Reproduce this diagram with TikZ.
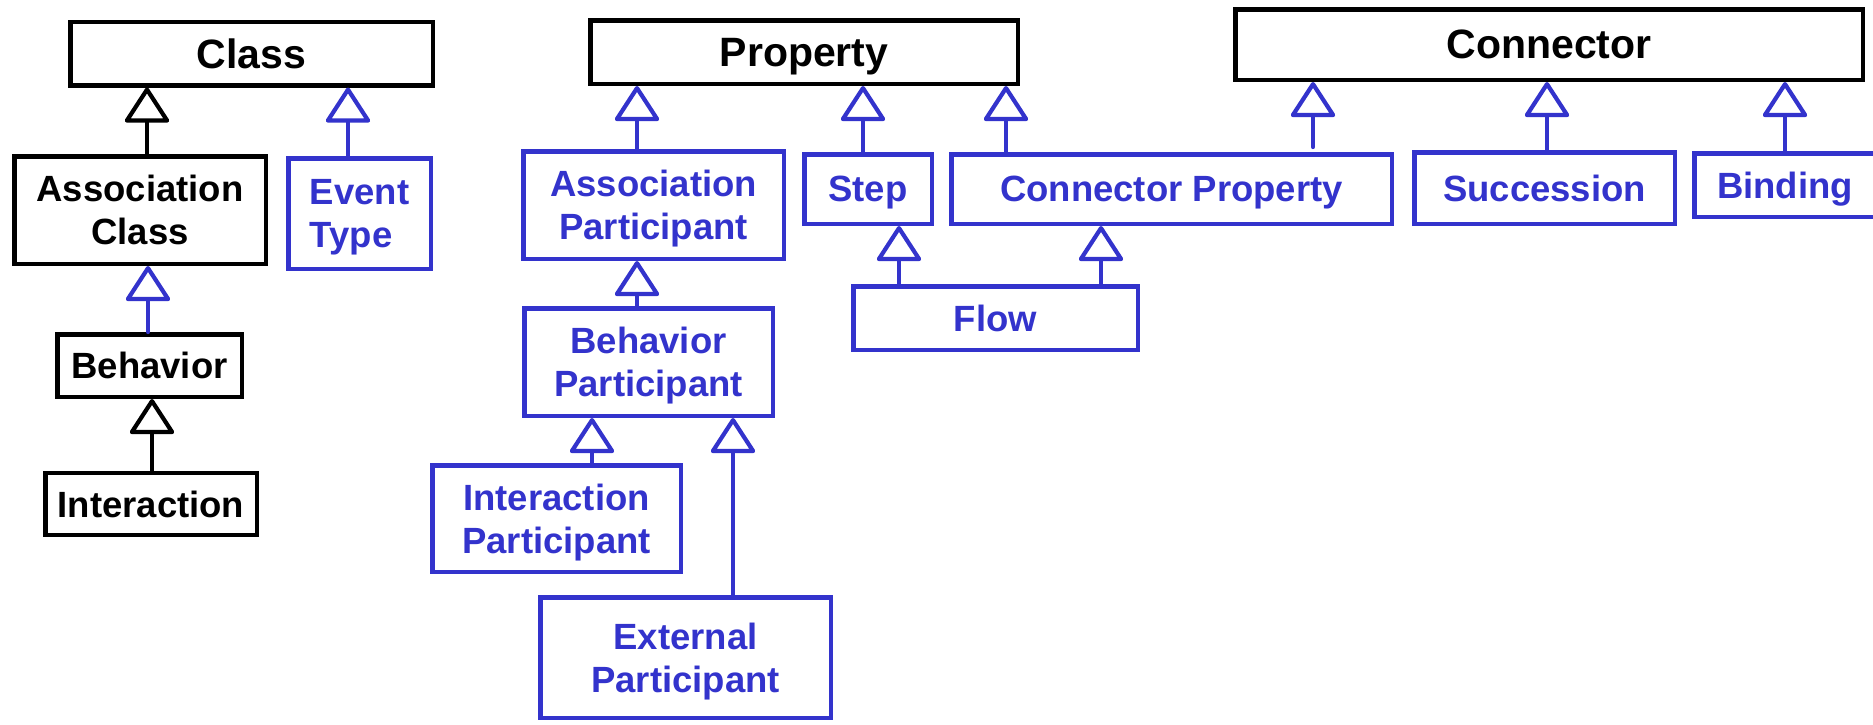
\documentclass[tikz,border=0pt]{standalone}
\usepackage{fontspec}
\setmainfont{Liberation Sans}
\usetikzlibrary{arrows.meta}
\definecolor{mblue}{RGB}{51,51,204}
% a line of box text whose descenders do not count for centring
\newcommand\nd[1]{\raisebox{0pt}[\height][0pt]{#1}}
\begin{document}
\begin{tikzpicture}[x=1pt,y=-1pt,
  box/.style={draw, line width=4.5pt, inner sep=0pt, align=center,
    font=\fontsize{36.5}{43}\selectfont\bfseries},
  topbox/.style={box, font=\fontsize{41}{48}\selectfont\bfseries},
  blk/.style={draw=black, text=black},
  blu/.style={draw=mblue, text=mblue},
  gen/.style={line width=4.2pt, line cap=round,
    -{Triangle[open,width=47pt,length=37pt,round]}},
  genblk/.style={gen, draw=black},
  genblu/.style={gen, draw=mblue},
]
\useasboundingbox (0,0) rectangle (1873,724);

% class hierarchy
\node[topbox,blk,minimum width=362.5pt,minimum height=63.5pt] (cls) at (251.5,53.5) {\nd{Class}};
\node[box,blk,minimum width=251.5pt,minimum height=107.5pt] (ac) at (140,210) {\nd{Association}\\\nd{Class}};
\node[box,blu,align=left,minimum width=142.5pt,minimum height=110.5pt] (et) at (359.5,213.5) {\nd{Event}\\\nd{Type}};
\node[box,blk,minimum width=184.5pt,minimum height=62.5pt] (beh) at (149.5,365.5) {\nd{Behavior}};
\node[box,blk,minimum width=211.5pt,minimum height=62pt] (int) at (151,504) {\nd{Interaction}};

% property hierarchy
\node[topbox,blk,minimum width=427.5pt,minimum height=63.5pt] (prop) at (804,52) {\nd{Property}};
\node[box,blu,minimum width=260.5pt,minimum height=107.5pt] (ap) at (653.5,205) {\nd{Association}\\\nd{Participant}};
\node[box,blu,minimum width=127.5pt,minimum height=69.5pt] (step) at (868,189) {\nd{Step}};
\node[box,blu,minimum width=440.5pt,minimum height=69.5pt] (cp) at (1171.5,189) {\nd{Connector Property}};
\node[box,blu,minimum width=284.5pt,minimum height=63.5pt] (flow) at (995.5,318) {\nd{Flow}};
\node[box,blu,minimum width=248.5pt,minimum height=107.5pt] (bp) at (648.5,362) {\nd{Behavior}\\\nd{Participant}};
\node[box,blu,minimum width=248.5pt,minimum height=106.5pt] (ip) at (556.5,518.5) {\nd{Interaction}\\\nd{Participant}};
\node[box,blu,minimum width=290.5pt,minimum height=120.5pt] (ep) at (685.5,657.5) {\nd{External}\\\nd{Participant}};

% connector hierarchy
\node[topbox,blk,minimum width=627.5pt,minimum height=70.5pt] (conn) at (1549,44.5) {\nd{Connector}};
\node[box,blu,minimum width=260.5pt,minimum height=71.5pt] (succ) at (1544.5,188) {\nd{Succession}};
\node[box,blu,minimum width=181.5pt,minimum height=63.5pt] (bind) at (1785,185) {\nd{Binding}};

% generalizations
\draw[genblk] ([xshift=7pt]ac.north) -- ([xshift=7pt]ac.north |- cls.south);
\draw[genblu] ([xshift=-11.5pt]et.north) -- ([xshift=-11.5pt]et.north |- cls.south);
\draw[genblu] ([xshift=-1.5pt]beh.north) -- ([xshift=-1.5pt]beh.north |- ac.south);
\draw[genblk] ([xshift=1pt]int.north) -- ([xshift=1pt]int.north |- beh.south);

\draw[genblu] ([xshift=-16.5pt]ap.north) -- ([xshift=-16.5pt]ap.north |- prop.south);
\draw[genblu] ([xshift=-5pt]step.north) -- ([xshift=-5pt]step.north |- prop.south);
\draw[genblu] ([xshift=-165.5pt]cp.north) -- ([xshift=-165.5pt]cp.north |- prop.south);
\draw[genblu,shorten <=5pt] ([xshift=141.5pt]cp.north) -- ([xshift=141.5pt]cp.north |- conn.south);
\draw[genblu] ([xshift=2.5pt]succ.north) -- ([xshift=2.5pt]succ.north |- conn.south);
\draw[genblu] (bind.north) -- (bind.north |- conn.south);
\draw[genblu] ([xshift=-96.5pt]flow.north) -- ([xshift=-96.5pt]flow.north |- step.south);
\draw[genblu] ([xshift=105.5pt]flow.north) -- ([xshift=105.5pt]flow.north |- cp.south);
\draw[genblu] ([xshift=-11.5pt]bp.north) -- ([xshift=-11.5pt]bp.north |- ap.south);
\draw[genblu] ([xshift=35.5pt]ip.north) -- ([xshift=35.5pt]ip.north |- bp.south);
\draw[genblu] ([xshift=47.5pt]ep.north) -- ([xshift=47.5pt]ep.north |- bp.south);
\end{tikzpicture}
\end{document}
